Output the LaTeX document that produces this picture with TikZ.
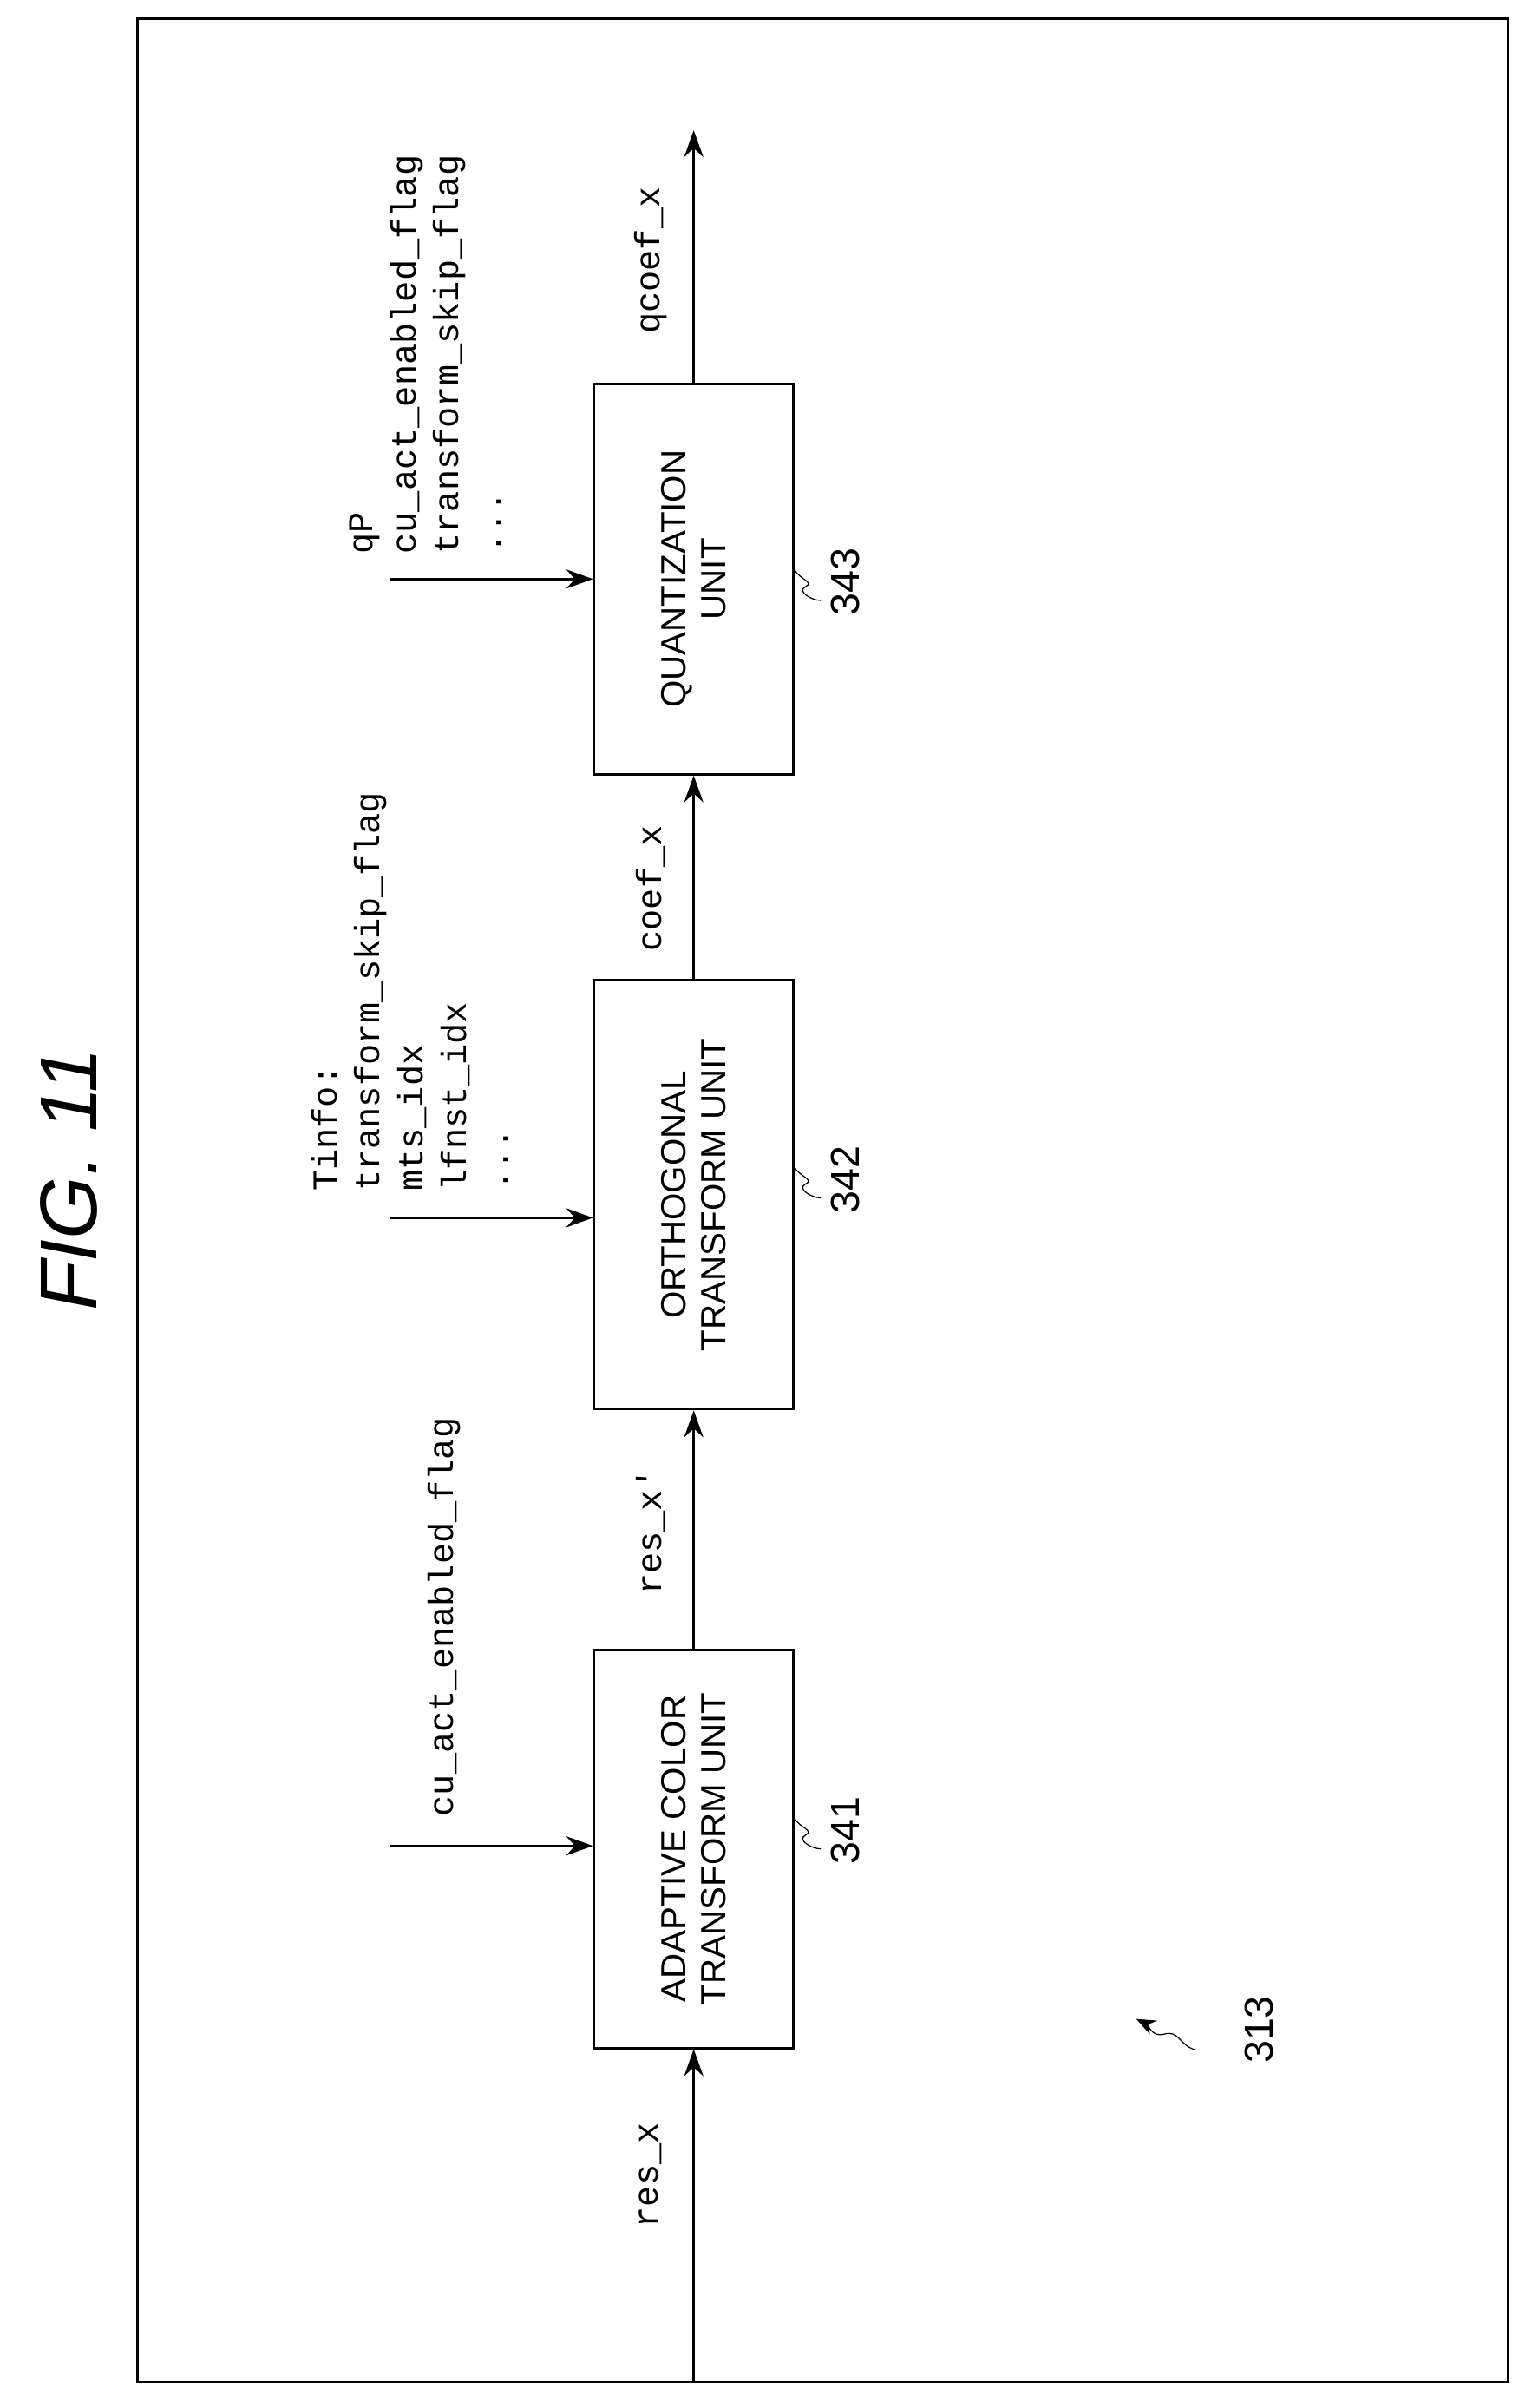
\documentclass[tikz,border=0pt]{standalone}
\usepackage{fontspec}
\setmainfont{Liberation Sans}
\newfontfamily\monofont{Liberation Mono}
\usetikzlibrary{arrows.meta}
\begin{document}
\begin{tikzpicture}
		[x=0.02cm, y=-0.02cm,
		unit/.style={
			rectangle,
			draw,
			line width=0.9pt,
			rotate=90,
			minimum height=2.6cm,
			align=center,
			font=\fontsize{13}{15}\selectfont
		},
		sig/.style={rotate=90, font=\monofont\fontsize{13}{16}\selectfont},
		num/.style={font=\fontsize{15}{17}\selectfont, rotate=90},
		flow/.style={-{Stealth[length=3.5mm,width=2.5mm]}, line width=0.9pt}]
		\useasboundingbox (0,0) rectangle (1000,1572);
		\draw[line width=0.9pt] (90,12) rectangle (985,1555);
		\node[rotate=90, font=\itshape\fontsize{30}{34}\selectfont] (title) at (45,770) {FIG. 11};
		% units
		\node[unit, minimum width=5.2cm] (act) at (453,1207) {ADAPTIVE COLOR\\TRANSFORM UNIT};
		\node[unit, minimum width=5.6cm] (orth) at (453,780) {ORTHOGONAL\\TRANSFORM UNIT};
		\node[unit, minimum width=5.1cm] (quant) at (453,378) {QUANTIZATION\\UNIT};
		% main path
		\coordinate (in) at (453,1555);
		\coordinate (out) at (453,85);
		\draw[flow] (in) -- (act.west);
		\draw[flow] (act.east) -- (orth.west);
		\draw[flow] (orth.east) -- (quant.west);
		\draw[flow] (quant.east) -- (out);
		\node[sig] (resx) at (425,1420) {res\_x};
		\node[sig] (resxp) at (425,1000) {res\_x'};
		\node[sig] (coefx) at (425,580) {coef\_x};
		\node[sig] (qcoefx) at (425,170) {qcoef\_x};
		% side inputs
		\coordinate (actin) at (255,1205);
		\coordinate (orthin) at (255,795);
		\coordinate (quantin) at (255,378);
		\draw[flow] (actin) -- (act.north |- actin);
		\draw[flow] (orthin) -- (orth.north |- orthin);
		\draw[flow] (quantin) -- (quant.north |- quantin);
		\node[sig, anchor=west] (actflag) at (290,1192) {cu\_act\_enabled\_flag};
		\node[sig, anchor=north west, align=left, inner sep=0pt] (tinfo) at (203,778)
			{Tinfo:\\transform\_skip\_flag\\mts\_idx\\lfnst\_idx\\...};
		\node[sig, anchor=north west, align=left, inner sep=0pt] (qinfo) at (228,362)
			{qP\\cu\_act\_enabled\_flag\\transform\_skip\_flag\\...};
		% reference numbers
		\foreach \n/\y in {act/1195, orth/770, quant/380}{
			\draw (\n.south |- 0,\y-8) .. controls (522,\y-2) and (532,\y) .. (526,\y+3)
				.. controls (520,\y+6) and (530,\y+12) .. (536,\y+12);
		}
		\node[num] (n341) at (552,1195) {341};
		\node[num] (n342) at (552,770) {342};
		\node[num] (n343) at (552,380) {343};
		\coordinate (grp) at (742,1318);
		\draw[-{Stealth[length=2.5mm,width=2mm]}] (780,1338) .. controls (770,1335) and (770,1325) .. (760,1328)
			.. controls (752,1330) and (750,1322) .. (grp);
		\node[num] (n313) at (822,1325) {313};
\end{tikzpicture}
\end{document}
